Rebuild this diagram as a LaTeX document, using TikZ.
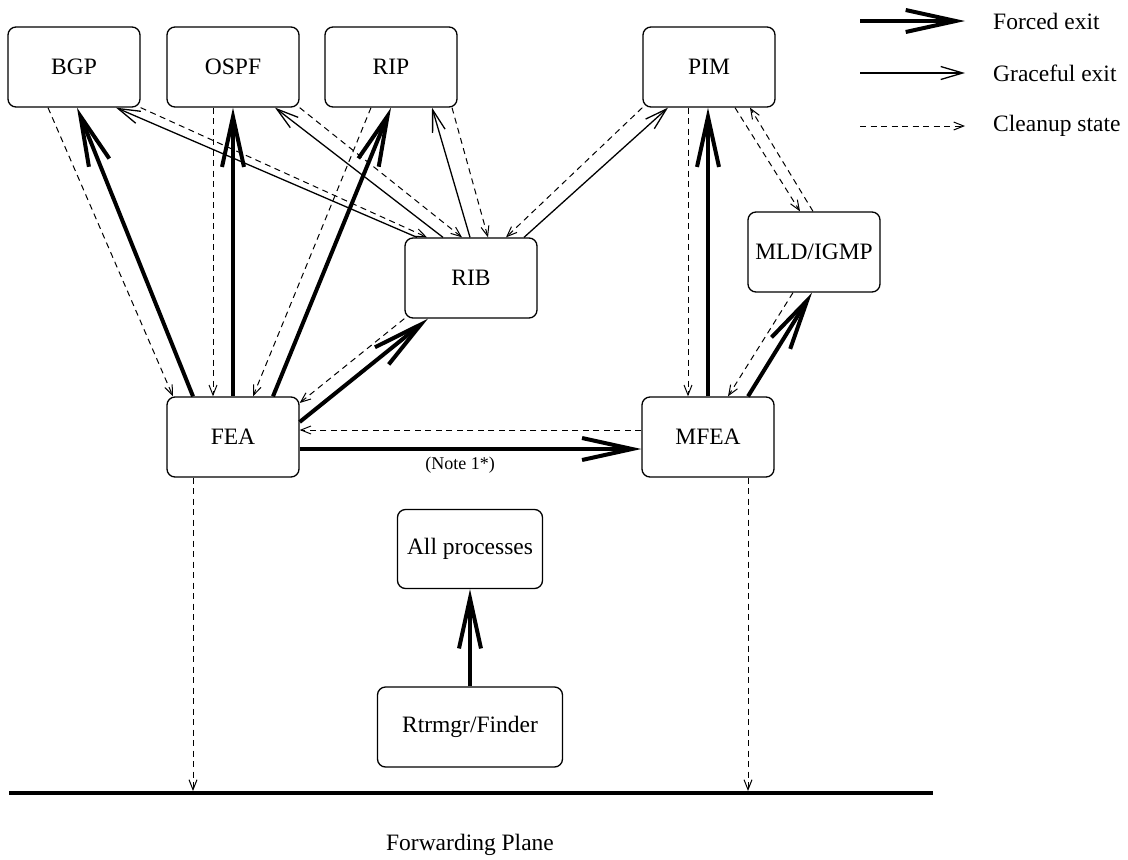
\documentclass[tikz,border=0pt]{standalone}
\usepackage{fontspec}
\setmainfont{Liberation Serif}
\usetikzlibrary{arrows.meta}
\begin{document}
\begin{tikzpicture}[x=1pt,y=-1pt,
  box/.style={draw, line width=1.3pt, rounded corners=8pt, minimum width=132pt, minimum height=80pt, inner sep=0pt, font=\fontsize{23.5}{28}\selectfont},
  forced/.style={line width=4pt, -{Straight Barb[length=50pt,width=22pt]}},
  graceful/.style={line width=1.3pt, -{Straight Barb[length=22pt,width=13pt]}},
  cleanup/.style={line width=1pt, dash pattern=on 6pt off 4.5pt, -{Straight Barb[length=10pt,width=8pt]}},
  lbl/.style={inner sep=0pt, anchor=west, font=\fontsize{23.5}{28}\selectfont},
  note/.style={inner sep=0pt, font=\fontsize{18}{22}\selectfont}]
\useasboundingbox (0,0) rectangle (1128,860);

% boxes
\node[box] (bgp)  at (74,67)   {BGP};
\node[box] (ospf) at (233,67)  {OSPF};
\node[box] (rip)  at (391,67)  {RIP};
\node[box] (pim)  at (709,67)  {PIM};
\node[box] (rib)  at (471,278) {RIB};
\node[box] (mld)  at (814,252) {MLD/IGMP};
\node[box] (fea)  at (233,437) {FEA};
\node[box] (mfea) at (708,437) {MFEA};
\node[box, minimum width=145pt, minimum height=79pt] (allp) at (470,549) {All processes};
\node[box, minimum width=185pt] (rtr) at (470,727) {Rtrmgr/Finder};

% forwarding plane
\coordinate (fpl) at (9,793);
\coordinate (fpr) at (933,793);
\draw[line width=4pt] (fpl) -- (fpr);
\node[inner sep=0pt, font=\fontsize{23.5}{28}\selectfont] (fplane) at (470,845) {Forwarding Plane};
\coordinate (fp1) at (193,791);
\coordinate (fp2) at (748,791);

% BGP
\draw[cleanup] ([xshift=-26pt]bgp.south) -- ([xshift=-60pt]fea.north);
\draw[forced] ([xshift=-40pt]fea.north) -- ([xshift=3pt]bgp.south);
% OSPF
\draw[cleanup] ([xshift=-20pt]ospf.south) -- ([xshift=-20pt]fea.north);
\draw[forced] (fea.north) -- (ospf.south);
% RIP
\draw[cleanup] ([xshift=-20pt]rip.south) -- ([xshift=20pt]fea.north);
\draw[forced] ([xshift=40pt]fea.north) -- (rip.south);

% RIB <-> protocols
\draw[graceful] ([xshift=-54pt]rib.north) -- ([xshift=42pt]bgp.south);
\draw[cleanup] (bgp.south east) -- ([xshift=-44pt]rib.north);
\draw[graceful] ([xshift=-28pt]rib.north) -- ([xshift=42pt]ospf.south);
\draw[cleanup] (ospf.south east) -- ([xshift=-9pt]rib.north);
\draw[graceful] ([xshift=-1pt]rib.north) -- ([xshift=41pt]rip.south);
\draw[cleanup] ([xshift=61pt]rip.south) -- ([xshift=17pt]rib.north);
\draw[graceful] ([xshift=53pt]rib.north) -- ([xshift=-41pt]pim.south);
\draw[cleanup] (pim.south west) -- ([xshift=35pt]rib.north);

% PIM / MFEA / MLD
\draw[cleanup] ([xshift=-21pt]pim.south) -- ([xshift=-20pt]mfea.north);
\draw[forced] (mfea.north) -- ([xshift=-1pt]pim.south);
\draw[cleanup] ([xshift=26pt]pim.south) -- ([xshift=-14pt]mld.north);
\draw[cleanup] ([xshift=-1pt]mld.north) -- ([xshift=41pt]pim.south);
\draw[cleanup] ([xshift=-21pt]mld.south) -- ([xshift=20pt]mfea.north);
\draw[forced] ([xshift=40pt]mfea.north) -- ([xshift=-2pt]mld.south);

% FEA <-> RIB, MFEA
\draw[forced] ([yshift=15pt]fea.east) -- ([xshift=-43pt]rib.south);
\draw[cleanup] (rib.south west) -- ([yshift=34pt]fea.east);
\draw[cleanup] ([yshift=7pt]mfea.west) -- ([yshift=7pt]fea.east);
\draw[forced] ([yshift=-12pt]fea.east) -- ([yshift=-12pt]mfea.west);
\node[note] (note1) at (460,465) {(Note 1*)};

% to forwarding plane
\draw[cleanup] ([xshift=-40pt]fea.south) -- (fp1);
\draw[cleanup] ([xshift=40pt]mfea.south) -- (fp2);

% Rtrmgr
\draw[forced] (rtr.north) -- (allp.south);

% legend
\coordinate (l1a) at (860,21);
\coordinate (l1b) at (965,21);
\coordinate (l2a) at (860,73);
\coordinate (l2b) at (965,73);
\coordinate (l3a) at (860,126);
\coordinate (l3b) at (965,126);
\draw[forced] (l1a) -- (l1b);
\draw[graceful] (l2a) -- (l2b);
\draw[cleanup] (l3a) -- (l3b);
\node[lbl] (lf) at (993,21) {Forced exit};
\node[lbl] (lg) at (993,73) {Graceful exit};
\node[lbl] (lc) at (993,126) {Cleanup state};
\end{tikzpicture}
\end{document}
